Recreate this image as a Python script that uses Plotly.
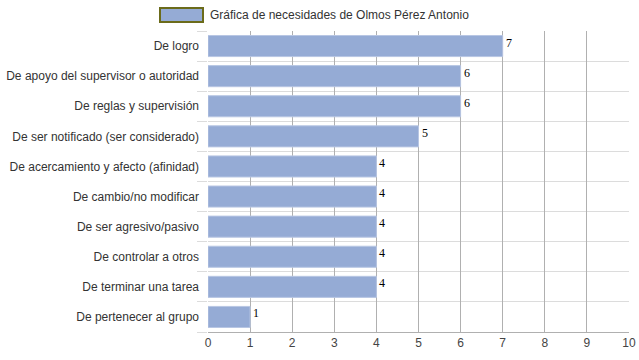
import plotly.graph_objects as go

categories = [
    "De logro",
    "De apoyo del supervisor o autoridad",
    "De reglas y supervisión",
    "De ser notificado (ser considerado)",
    "De acercamiento y afecto (afinidad)",
    "De cambio/no modificar",
    "De ser agresivo/pasivo",
    "De controlar a otros",
    "De terminar una tarea",
    "De pertenecer al grupo",
]
values = [7, 6, 6, 5, 4, 4, 4, 4, 4, 1]
series_name = "Gráfica de necesidades de Olmos Pérez Antonio"
x_ticks = list(range(0, 11))

idx = list(range(len(categories)))

PL, PR, PT, PB = 208, 629, 31, 332
W, H = 639, 360
pw, ph = PR - PL, PB - PT

fig = go.Figure()
fig.add_trace(go.Bar(
    x=values, y=idx, orientation="h", width=0.7,
    marker=dict(color="#95abd5", line=dict(color="#b8c6e3", width=1)),
    name=series_name, showlegend=False, hoverinfo="x+y",
))

for i, v in zip(idx, values):
    fig.add_annotation(
        x=v, y=i - 0.35, xref="x", yref="y", text=str(v), showarrow=False,
        xanchor="left", yanchor="top", xshift=1, yshift=2,
        font=dict(family="Liberation Serif, Times New Roman, serif", size=12, color="#000"),
    )

# legend drawn manually
fig.add_shape(type="rect", xref="paper", yref="paper",
              x0=(160 - PL) / pw, x1=(203 - PL) / pw,
              y0=1 + (PT - 22) / ph, y1=1 + (PT - 8) / ph,
              fillcolor="#95abd5", line=dict(color="#6b6b1a", width=2))
fig.add_annotation(xref="paper", yref="paper", x=0, y=1 + (PT - 15) / ph,
                   text=series_name, showarrow=False, xanchor="left", yanchor="middle",
                   font=dict(family="Liberation Sans, Arial, sans-serif", size=12, color="#333"))

fig.update_layout(
    width=W, height=H,
    margin=dict(l=PL, r=W - PR, t=PT, b=H - PB),
    plot_bgcolor="white", paper_bgcolor="white",
    font=dict(family="Liberation Sans, Arial, sans-serif", size=12, color="#333"),
    showlegend=False,
)
fig.update_xaxes(
    range=[0, 10], tickvals=x_ticks, showgrid=True, gridcolor="#b0b0b0", gridwidth=1,
    zeroline=False, showline=True, linecolor="#b0b0b0", ticks="",
    tickfont=dict(color="#444"), fixedrange=True, automargin=False,
)
fig.update_yaxes(
    range=[9.5, -0.5], tickvals=idx, ticktext=categories, showgrid=False,
    zeroline=False, showline=False, ticks="", ticklabelstandoff=8,
    minor=dict(tickvals=[i + 0.5 for i in range(-1, len(categories))],
               showgrid=True, gridcolor="#dcdcdc", ticks="outside", ticklen=10,
               tickcolor="#dcdcdc"),
    tickfont=dict(color="#333"), fixedrange=True, automargin=False,
)

fig.write_html("out.html", config={"displayModeBar": False},
               post_script="document.body.style.margin='0';")
